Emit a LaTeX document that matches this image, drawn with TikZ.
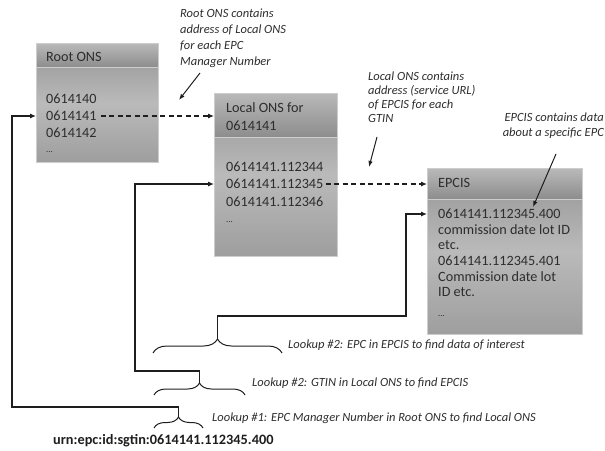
\documentclass[tikz,border=0pt]{standalone}
\usepackage{fontspec}
\setmainfont{Carlito}
\usetikzlibrary{decorations.pathreplacing,arrows.meta}

\definecolor{ink}{RGB}{30,30,30}
\definecolor{txt}{RGB}{45,45,45}
\definecolor{hdtop}{RGB}{185,185,185}
\definecolor{hdbot}{RGB}{140,140,140}
\definecolor{bdtop}{RGB}{148,148,148}
\definecolor{bdmid}{RGB}{186,186,186}
\definecolor{bdbot}{RGB}{158,158,158}
\definecolor{edge}{RGB}{205,205,205}

\begin{document}
\begin{tikzpicture}[x=1pt,y=-1pt,
  boxbody/.style={draw=edge, line width=1pt, anchor=north west, inner sep=0pt,
    top color=bdtop, bottom color=bdbot, middle color=bdmid},
  boxhead/.style={draw=edge, line width=1pt, anchor=north west, inner sep=0pt,
    top color=hdtop, bottom color=hdbot},
  item/.style={anchor=west, inner sep=0pt, text=txt, font=\fontsize{14.2}{16}\selectfont},
  dots/.style={anchor=west, inner sep=0pt, text=txt, font=\fontsize{9}{10}\selectfont},
  note/.style={inner sep=0pt, text=txt, font=\fontsize{12.5}{14}\selectfont\itshape},
  conn/.style={draw=ink, line width=1.1pt, -{Latex[length=6pt,width=5pt]}},
  dconn/.style={conn, dash pattern=on 5pt off 3.5pt},
  pointer/.style={draw=ink, line width=1pt, -{Latex[length=6pt,width=4.5pt]}},
  brc/.style={draw=ink, line width=1pt, decorate, decoration={brace, amplitude=#1}}
]
\useasboundingbox (0,0) rectangle (605,450);

% ---------- Root ONS ----------
\node[boxbody, minimum width=122pt, minimum height=119pt] (root) at (36,43) {};
\node[boxhead, minimum width=122pt, minimum height=24pt] (rooth) at (36,43) {};
\node[item] (rt) at (46,57) {Root ONS};
\node[item] (r1) at (46,99) {0614140};
\node[item] (r2) at (46,116) {0614141};
\node[item] (r3) at (46,133) {0614142};
\node[dots] (r4) at (46,152) {...};

% ---------- Local ONS ----------
\node[boxbody, minimum width=123pt, minimum height=163pt] (local) at (214,93) {};
\node[boxhead, minimum width=123pt, minimum height=44pt] (localh) at (214,93) {};
\node[item] (lt1) at (226,108) {Local ONS for};
\node[item] (lt2) at (226,126) {0614141};
\node[item] (l1) at (226,167) {0614141.112344};
\node[item] (l2) at (226,184) {0614141.112345};
\node[item] (l3) at (226,202) {0614141.112346};
\node[dots] (l4) at (226,222) {...};

% ---------- EPCIS ----------
\node[boxbody, minimum width=155pt, minimum height=166pt] (epcis) at (427,168) {};
\node[boxhead, minimum width=155pt, minimum height=31pt] (epcish) at (427,168) {};
\node[item] (et) at (438,183) {EPCIS};
\node[item] (e1) at (438,214) {0614141.112345.400};
\node[item] (e2) at (438,229.5) {commission date lot ID};
\node[item] (e3) at (438,245) {etc.};
\node[item] (e4) at (438,261) {0614141.112345.401};
\node[item] (e5) at (438,276.5) {Commission date lot};
\node[item] (e6) at (438,292) {ID etc.};
\node[dots] (e7) at (438,316) {...};

% ---------- dashed links ----------
\draw[dconn] ([xshift=4pt]r2.east) -- (r2.east -| local.west);
\draw[dconn] ([xshift=2pt]l2.east) -- (l2.east -| epcis.west);

% ---------- annotations ----------
\node[note, anchor=north west, align=left, font=\fontsize{12.5}{16}\selectfont\itshape] (n1) at (180,9)
  {Root ONS contains\\address of Local ONS\\for each EPC\\Manager Number};
\coordinate (n1s) at (200,73);
\coordinate (n1e) at (179,100);
\draw[pointer] (n1s) -- (n1e);

\node[note, anchor=north west, align=left, font=\fontsize{12.5}{14}\selectfont\itshape] (n2) at (368,72)
  {Local ONS contains\\address (service URL)\\of EPCIS for each\\GTIN};
\coordinate (n2s) at (377,137);
\coordinate (n2e) at (369,167);
\draw[pointer] (n2s) -- (n2e);

\node[note, anchor=north east, align=right, font=\fontsize{12.5}{15}\selectfont\itshape] (n3) at (604,113)
  {EPCIS contains data\\about a specific EPC};
\coordinate (n3s) at (556,154);
\coordinate (n3e) at (533,207);
\draw[pointer] (n3s) -- (n3e);

% ---------- braces ----------
\draw[brc=11pt] (154,428) -- (203,428);
\coordinate (t1) at (178.5,417);
\draw[brc=12pt] (154,395) -- (245,395);
\coordinate (t2) at (199.5,383);
\draw[brc=14pt] (153,353) -- (282,353);
\coordinate (t3) at (217.5,339);

\node[note, anchor=west] (L1) at (212,418) {Lookup \#1: EPC Manager Number in Root ONS to find Local ONS};
\node[note, anchor=west] (L2) at (252,383) {Lookup \#2: GTIN in Local ONS to find EPCIS};
\node[note, anchor=west] (L3) at (288,345) {Lookup \#2: EPC in EPCIS to find data of interest};

\node[anchor=west, inner sep=0pt, text=ink, font=\fontsize{14.3}{16}\selectfont\bfseries] (urn) at (53,441)
  {urn:epc:id:sgtin:0614141.112345.400};

% ---------- lookup paths ----------
\coordinate (b1) at (12,407);
\coordinate (b2) at (135,371);
\coordinate (b3) at (406,316);
\draw[conn] (t1) |- (b1) |- (r2.west -| root.west);
\draw[conn] (t2) |- (b2) |- (l2.west -| local.west);
\draw[conn] (t3) |- (b3) |- (e1.west -| epcis.west);
\end{tikzpicture}
\end{document}
